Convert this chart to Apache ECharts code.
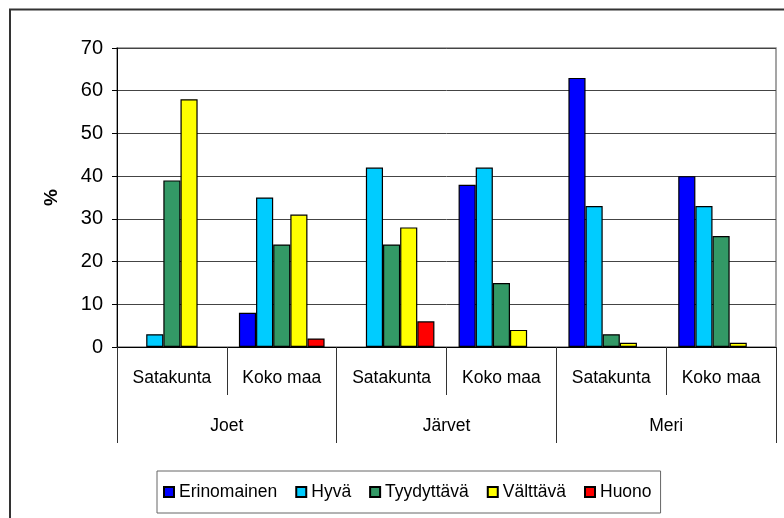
<!DOCTYPE html>
<html>
<head>
<meta charset="utf-8">
<script src="https://cdn.jsdelivr.net/npm/echarts@6/dist/echarts.min.js"></script>
<style>
  html, body { margin: 0; padding: 0; background: #fff; }
  #chart { width: 784px; height: 518px; }
</style>
</head>
<body>
<div id="chart"></div>
<script>
// sub categories (bottom row 1) and groups (row 2)
const subCategories = ['Satakunta', 'Koko maa', 'Satakunta', 'Koko maa', 'Satakunta', 'Koko maa']
const groups = ['Joet', 'Järvet', 'Meri']
const yTicks = [0, 10, 20, 30, 40, 50, 60, 70]

const seriesNames = ['Erinomainen', 'Hyvä', 'Tyydyttävä', 'Välttävä', 'Huono']
const erinomainen = [0, 8, 0, 38, 63, 40]
const hyva = [3, 35, 42, 42, 33, 33]
const tyydyttava = [39, 24, 24, 15, 3, 26]
const valttava = [58, 31, 28, 4, 1, 1]
const huono = [0, 2, 6, 0, 0, 0]

const colors = ['#0000FF', '#00CCFF', '#339966', '#FFFF00', '#FF0000']
const font = '"Liberation Sans", Arial, sans-serif'

const chart = echarts.init(document.getElementById('chart'))

const values = [erinomainen, hyva, tyydyttava, valttava, huono]
const series = seriesNames.map((name, i) => ({
  name,
  type: 'bar',
  xAxisIndex: 0,
  // a 0 bar is not drawn at all (as in the original)
  data: values[i].map(v => (v === 0 ? null : v)),
  barGap: '0%',
  barCategoryGap: '22%',
  itemStyle: {
    color: colors[i],
    borderColor: '#000',
    borderWidth: 1.2
  },
  emphasis: { disabled: true },
  animation: false
}))

chart.setOption({
  animation: false,
  color: colors,
  grid: {
    left: 117,
    right: 8,
    top: 48,
    bottom: 171,
    show: true,
    borderColor: '#888',
    borderWidth: 1.5
  },
  legend: {
    data: seriesNames,
    icon: 'rect',
    left: 157,
    top: 471,
    orient: 'horizontal',
    padding: [12, 9, 12, 6],
    itemWidth: 10,
    itemHeight: 10,
    itemGap: 18,
    borderColor: '#666',
    borderWidth: 1,
    textStyle: { fontFamily: font, fontSize: 17.5, color: '#000' }
  },
  xAxis: [{
    type: 'category',
    data: subCategories,
    position: 'bottom',
    axisLine: { show: true, lineStyle: { color: '#000', width: 1 } },
    axisTick: { show: true, interval: 0, length: 48, lineStyle: { color: '#333' } },
    axisLabel: { interval: 0, margin: 22, fontFamily: font, fontSize: 17.5, color: '#000' },
    splitLine: { show: false }
  }, {
    type: 'category',
    data: groups,
    position: 'bottom',
    axisLine: { show: false },
    axisTick: { show: true, interval: 0, length: 96, lineStyle: { color: '#333' } },
    axisLabel: { interval: 0, margin: 70, fontFamily: font, fontSize: 17.5, color: '#000' },
    splitLine: { show: false }
  }],
  yAxis: {
    type: 'value',
    name: '%',
    nameLocation: 'middle',
    nameGap: 56,
    nameRotate: 90,
    nameTextStyle: { fontFamily: font, fontSize: 19, fontWeight: 'bold', color: '#000' },
    min: yTicks[0],
    max: yTicks[yTicks.length - 1],
    interval: 10,
    axisLine: { show: true, lineStyle: { color: '#000', width: 1 } },
    axisTick: { show: true, length: 5, lineStyle: { color: '#000' } },
    axisLabel: { margin: 14, fontFamily: font, fontSize: 20, color: '#000' },
    splitLine: { show: true, lineStyle: { color: '#444', width: 1 } }
  },
  graphic: [{
    type: 'rect',
    shape: { x: 10, y: 9.5, width: 800, height: 600 },
    style: { fill: 'none', stroke: '#333', lineWidth: 2 },
    silent: true
  }],
  series
})
</script>
</body>
</html>
